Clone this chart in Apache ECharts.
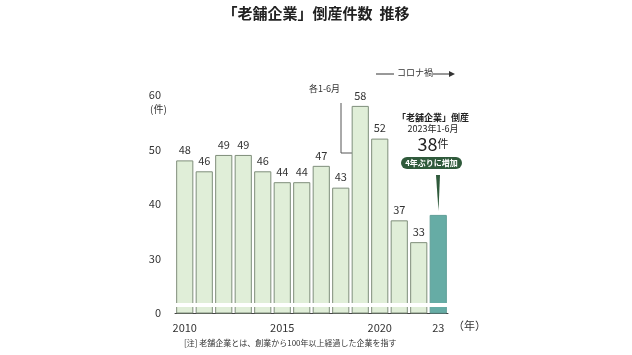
<!DOCTYPE html>
<html><head><meta charset="utf-8">
<script src="https://cdn.jsdelivr.net/npm/echarts@6/dist/echarts.min.js"></script>
<style>html,body{margin:0;padding:0;background:#fff}#c{width:632px;height:355px}</style>
</head><body><div id="c"></div>
<script>
var years = ['2010','2011','2012','2013','2014','2015','2016','2017','2018','2019','2020','2021','2022','2023'];
var counts = [48,46,49,49,46,44,44,47,43,58,52,37,33,38];
var xTickLabels = {'2010':'2010','2015':'2015','2020':'2020','2023':'23'};
var yTickLabels = {20:'0',30:'30',40:'40',50:'50',60:'60'};
var breakValue = 21.6;

var F = '"Noto Sans CJK JP", "Noto Sans", sans-serif';
var chart = echarts.init(document.getElementById('c'));
var dataItems = counts.map(function(v,i){
  if(i === counts.length-1){
    return {value:v, itemStyle:{color:'#66aca5', borderColor:'#5e9e97'}, label:{show:false}};
  }
  return v;
});
chart.setOption({
  animation:false,
  textStyle:{fontFamily:F},
  grid:{left:175, right:184, top:95, bottom:42},
  xAxis:{
    type:'category', data:years,
    axisLine:{lineStyle:{color:'#444', width:1}},
    axisTick:{show:false},
    axisLabel:{
      interval:0, color:'#333', fontSize:11, margin:9, fontFamily:F,
      formatter:function(v){ return xTickLabels[v] || ''; }
    }
  },
  yAxis:{
    type:'value', min:20, max:60, interval:10,
    axisLine:{show:false}, axisTick:{show:false}, splitLine:{show:false},
    axisLabel:{color:'#333', fontSize:11, margin:14, fontFamily:F,
      formatter:function(v){ return yTickLabels[v] !== undefined ? yTickLabels[v] : ''; }}
  },
  series:[{
    type:'bar', data:dataItems, barCategoryGap:'12%', clip:true,
    itemStyle:{color:'#e0eed8', borderColor:'#7f8e7b', borderWidth:1},
    label:{show:true, position:'top', color:'#333', fontSize:11, distance:5, fontFamily:F},
    markLine:{
      silent:true, symbol:'none', animation:false,
      lineStyle:{color:'#ffffff', width:4, type:'solid'},
      label:{show:false},
      data:[{yAxis:breakValue}]
    },
    z:2
  }],
  graphic:[
    {type:'text', left:'center', top:6, style:{text:'「老舗企業」倒産件数  推移', font:'bold 15px '+F, fill:'#222'}},
    {type:'text', x:150, y:104, style:{text:'(件)', font:'10px '+F, fill:'#333'}},
    {type:'text', x:453, y:320, style:{text:'（年）', font:'11px '+F, fill:'#333'}},
    {type:'text', x:184, y:339, style:{text:'[注] 老舗企業とは、創業から100年以上経過した企業を指す', font:'8px '+F, fill:'#333'}},
    {type:'text', x:309, y:84, style:{text:'各1-6月', font:'9px '+F, fill:'#333'}},
    {type:'polyline', shape:{points:[[341,103],[341,153],[352,153]]}, style:{stroke:'#555', lineWidth:1, fill:null}},
    {type:'line', shape:{x1:376,y1:74,x2:394,y2:74}, style:{stroke:'#333', lineWidth:1}},
    {type:'text', x:397, y:68, style:{text:'コロナ禍', font:'9px '+F, fill:'#333'}},
    {type:'line', shape:{x1:433,y1:74,x2:450,y2:74}, style:{stroke:'#333', lineWidth:1}},
    {type:'polygon', shape:{points:[[449,71],[455,74],[449,77]]}, style:{fill:'#333'}},
    {type:'text', x:433, y:113, style:{text:'「老舗企業」倒産', font:'bold 9px '+F, fill:'#222', align:'center'}},
    {type:'text', x:433, y:124, style:{text:'2023年1-6月', font:'9px '+F, fill:'#222', align:'center'}},
    {type:'text', x:433, y:135, style:{rich:{a:{font:'18px '+F, fill:'#222'}, b:{font:'11px '+F, fill:'#222'}}, text:'{a|38}{b|件}', align:'center'}},
    {type:'rect', shape:{x:401, y:157, width:61, height:12, r:6}, style:{fill:'#2f5a3b'}},
    {type:'text', x:431.5, y:158.5, style:{text:'4年ぶりに増加', font:'bold 8px '+F, fill:'#fff', align:'center'}},
    {type:'polygon', shape:{points:[[436,175],[440,175],[438.5,211]]}, style:{fill:'#2f5a3b'}}
  ]
});
</script></body></html>
